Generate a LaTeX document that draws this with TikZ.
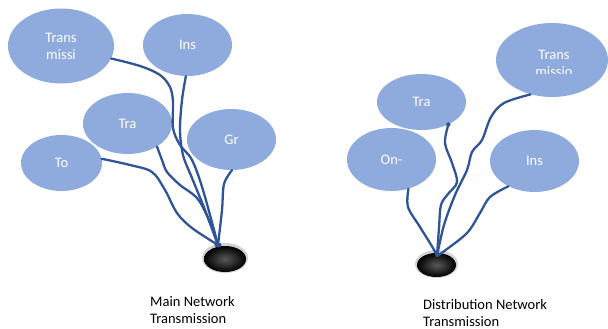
\documentclass[tikz,border=0pt]{standalone}
\usepackage{fontspec}
\setmainfont{Carlito}
\usetikzlibrary{shapes.geometric}
\definecolor{bubble}{HTML}{8FAADC}
\definecolor{wire}{HTML}{2F5597}
\tikzset{
  bub/.style={ellipse, fill=bubble, draw=none, inner sep=0pt, text=white, align=center,
              font=\fontsize{14.5}{17}\selectfont},
  wirel/.style={draw=wire, line width=2.3pt, line cap=round, line join=round},
  lbl/.style={anchor=west, align=left, inner sep=0pt, font=\fontsize{14.5}{17}\selectfont},
}
\begin{document}
\begin{tikzpicture}[x=1pt, y=-1pt]
\useasboundingbox (0,0) rectangle (608,329);
% sinks
\foreach \n/\cx/\cy/\rx/\ry in {blobL/225/258/23/15, blobR/436.5/264/21.5/14}{
  \fill[gray!35] (\cx,\cy) ellipse [x radius=\rx pt, y radius=\ry pt];
  \shade[inner color=black!65, outer color=black] (\cx,\cy+1) ellipse [x radius=\rx pt-2pt, y radius=\ry pt-2pt];
}
\coordinate (hubL) at (218,245);
\coordinate (hubR) at (437,256);
% left bubbles
\node[bub, minimum width=106, minimum height=75] (tm) at (61,46) {Trans\\missi};
\node[bub, minimum width=89, minimum height=62] (insL) at (187.5,45) {Ins};
\node[bub, minimum width=89, minimum height=61] (traL) at (127.5,123.5) {Tra};
\node[bub, minimum width=89, minimum height=61] (gr) at (231.5,139.5) {Gr};
\node[bub, minimum width=81, minimum height=56] (to) at (61.5,163) {To};
% right bubbles
\node[bub, minimum width=89, minimum height=56] (traR) at (421.5,102) {Tra};
\node[bub, minimum width=112, minimum height=74] (tmR) at (552,60) {};
\begin{scope}
  \clip (496,20) rectangle (608,73.8);
  \node[bub, fill=none] (tmRtxt) at (554,63) {Trans\\missio};
\end{scope}
\node[bub, minimum width=89, minimum height=63] (on) at (391.5,159.5) {On-};
\node[bub, minimum width=89, minimum height=62] (insR) at (534.5,161) {Ins};
% left wires
\draw[wirel] plot[smooth, tension=0.55] coordinates {(tm.-14) (140,66) (160,75) (170,87) (173,102) (173,128) (180,145) (192,160) (203,190) (hubL)};
\draw[wirel] plot[smooth, tension=0.55] coordinates {(insL.-93) (182,100) (180,130) (183,155) (192,178) (205,210) (hubL)};
\draw[wirel] plot[smooth, tension=0.55] coordinates {(traL.-38) (162,160) (167,172) (180,185) (197,198) (208,218) (hubL)};
\draw[wirel] plot[smooth, tension=0.55] coordinates {(to.6) (130,165) (152,172) (165,190) (177,213) (192,228) (hubL)};
\draw[wirel] plot[smooth, tension=0.55] coordinates {(gr.-89) (224,184) (222,210) (hubL)};
\fill[wire] (hubL) ellipse [x radius=3.5pt, y radius=2.5pt];
% right wires
\fill[wire] (traR.-40) circle (2.2pt);
\draw[wirel] plot[smooth, tension=0.55] coordinates {(traR.-40) (445,143) (452,163) (457,182) (448,194) (441,205) (439,228) (hubR)};
\draw[wirel] plot[smooth, tension=0.55] coordinates {(tmR.-122) (504,103) (491,117) (482,140) (472,152) (467,170) (455,195) (444,225) (hubR)};
\draw[wirel] plot[smooth, tension=0.55] coordinates {(on.-60) (408,207) (420,227) (433,248) (hubR)};
\draw[wirel] plot[smooth, tension=0.55] coordinates {(insR.-136) (490,197) (480,213) (467,233) (443,252) (hubR)};
% labels
\node[lbl] (labL) at (150,310.5) {Main Network\\Transmission};
\node[lbl] (labR) at (423,313) {Distribution Network\\Transmission};
\end{tikzpicture}
\end{document}
